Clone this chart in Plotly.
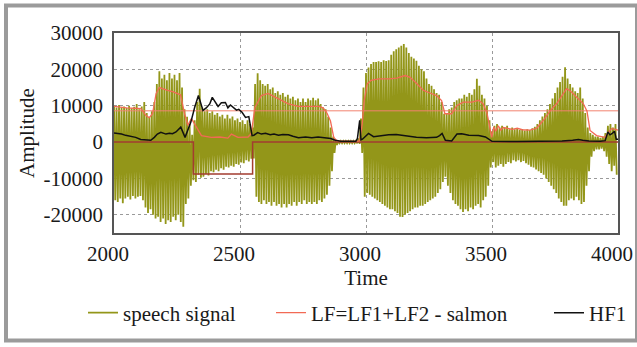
import plotly.graph_objects as go

# ---------------- data ----------------
# speech signal: local maxima / minima, one pair per 10 time units (2000..3990)
speech_t = list(range(2000, 4000, 10))
speech_peaks = [
    10000, 9500, 10200, 9600, 9800, 9400, 10000, 9300, 9700, 10500,      # 2000
    9000, 9800, 11000, 8000, 7000, 8500, 11000, 16000, 19500, 17500,     # 2100
    18500, 17000, 19000, 17500, 18500, 17000, 19000, 15000, 9000, 7000,  # 2200
    5000, 2000, 6000, 11000, 14700, 9500, 8500, 9000, 8000, 8500,        # 2300
    7500, 8000, 7000, 7500, 6500, 7500, 6500, 7000, 6000, 6500,          # 2400
    5500, 6000, 5000, 6000, 5000, 4000, 16000, 18900, 17000, 16000,      # 2500
    15500, 16000, 14500, 15000, 13500, 14000, 13000, 13500, 12500, 13000,  # 2600
    12000, 12500, 11500, 12000, 11000, 12000, 11000, 12000, 11500, 12200,  # 2700
    11500, 12000, 10500, 9500, 9000, 7000, 4000, 1500, 500, 300,         # 2800
    300, 300, 300, 300, 300, 300, 300, 1000, 6500, 15000,                # 2900
    19000, 20500, 21500, 22000, 22000, 22200, 22000, 22500, 22300, 22500,  # 3000
    24000, 25000, 25500, 26000, 26500, 27000, 26000, 24500, 23500, 23000,  # 3100
    22400, 21000, 20000, 19500, 17500, 16000, 15500, 14500, 13500, 13000,  # 3200
    11000, 7800, 8000, 9000, 9500, 11000, 11500, 12000, 12000, 13000,    # 3300
    12500, 13500, 13000, 14500, 17400, 15500, 13000, 12000, 10000, 6000,  # 3400
    3000, 4500, 5000, 4000, 4500, 4000, 4500, 3500, 4000, 3500,          # 3500
    3800, 3300, 3600, 3200, 3500, 3300, 3800, 4200, 5000, 6000,          # 3600
    7000, 8000, 9000, 10500, 12000, 13500, 15000, 16500, 18000, 20600,   # 3700
    17500, 16000, 15000, 14000, 13500, 15000, 12000, 8000, 4000, 2500,   # 3800
    2000, 1500, 1500, 1200, 1500, 2500, 4500, 5000, 4000, 5000,          # 3900
]
speech_troughs = [
    -16000, -16500, -15500, -16800, -15500, -15000, -15800, -14800, -15500, -15000,  # 2000
    -14800, -16000, -18000, -19500, -18500, -20000, -21000, -20500, -22000, -21000,  # 2100
    -22500, -21500, -22000, -20500, -21500, -20000, -22000, -23300, -17000, -15500,  # 2200
    -12000, -10500, -11000, -9000, -9800, -9500, -8800, -9200, -8000, -8300,         # 2300
    -7600, -8000, -7200, -7600, -6800, -7000, -6500, -6800, -6000, -6200,           # 2400
    -5600, -5800, -5000, -5300, -4600, -4500, -15000, -16500, -17000, -16000,       # 2500
    -17000, -16500, -17500, -16500, -17500, -17000, -18000, -17000, -18000, -17000,  # 2600
    -17500, -16500, -17500, -16500, -17000, -16000, -17000, -16500, -17000, -16500,  # 2700
    -17000, -16000, -16500, -15500, -14500, -12000, -8000, -3000, -800, -300,        # 2800
    -300, -300, -300, -300, -300, -300, -300, -500, -3000, -15000,                   # 2900
    -14000, -14500, -15000, -15500, -16000, -16500, -17000, -17500, -18000, -18500,  # 3000
    -18500, -19000, -19500, -20500, -20600, -20000, -19500, -19000, -18500, -18000,  # 3100
    -18000, -17500, -17500, -17000, -16500, -16000, -15500, -15000, -14000, -13000,  # 3200
    -11000, -9500, -12000, -14000, -16000, -17000, -17500, -18500, -19200, -18500,   # 3300
    -19000, -18000, -18500, -17500, -17000, -18000, -16000, -15000, -12000, -7000,   # 3400
    -5500, -7000, -6500, -6000, -6800, -6000, -5500, -5800, -5000, -5300,            # 3500
    -5000, -5500, -5200, -5800, -6200, -6800, -7000, -7500, -8000, -8500,            # 3600
    -9000, -10000, -11000, -12000, -13000, -14000, -15500, -16500, -17500, -17500,   # 3700
    -16000, -15500, -16000, -15000, -16000, -17000, -16500, -12000, -8000, -4000,    # 3800
    -2500, -2000, -2000, -1800, -2500, -4000, -6000, -8000, -6500, -9000,            # 3900
]

# LF = LF1 + LF2 (salmon curve)
lf_t = [2000, 2020, 2050, 2080, 2107, 2127, 2140, 2153, 2167, 2180, 2195, 2213,
        2235, 2253, 2264, 2280, 2293, 2307, 2327, 2347, 2386, 2420, 2452, 2466,
        2492, 2532, 2545, 2559, 2585, 2611, 2630, 2651, 2690, 2730, 2780, 2812,
        2830, 2845, 2859, 2872, 2885, 2920, 2960, 2975, 2985, 2993, 3005, 3020,
        3050, 3090, 3122, 3155, 3175, 3201, 3228, 3254, 3280, 3300, 3313, 3340,
        3360, 3386, 3420, 3447, 3465, 3480, 3499, 3507, 3515, 3525, 3535, 3545,
        3560, 3580, 3600, 3620, 3650, 3677, 3704, 3730, 3757, 3780, 3796, 3812,
        3836, 3862, 3877, 3889, 3915, 3948, 3963, 3975, 3990, 4000]
lf_v = [9800, 9600, 9400, 9300, 9200, 7300, 6700, 7800, 13300, 15000, 14600, 14200,
        13800, 13400, 13000, 7800, 4600, 6500, 4100, 1800, 1300, 1400, 1100, 2200,
        1300, 1400, 2400, 9500, 12800, 13400, 12700, 12000, 10600, 9800, 9800, 9800,
        9400, 8000, 5800, 1300, 300, 200, 200, 300, 5000, 11500, 16000, 17000,
        17400, 17400, 17600, 18300, 17800, 16100, 14200, 13500, 12800, 11400, 7800, 7800,
        10000, 11000, 11000, 11500, 10500, 8000, 1300, 4200, 3000, 4500, 3300, 4000,
        3700, 3500, 3800, 3400, 3300, 3800, 6000, 8500, 10600, 13000, 14700, 14000,
        12500, 10600, 8500, 3200, 1800, 1300, 2800, 3700, 3500, 3300]

# HF1 (black curve)
hf1_t = [2000, 2015, 2030, 2046, 2065, 2086, 2106, 2127, 2146, 2160, 2172, 2186,
         2206, 2220, 2232, 2246, 2265, 2282, 2295, 2305, 2320, 2335, 2353, 2366,
         2380, 2390, 2413, 2426, 2442, 2452, 2462, 2475, 2486, 2495, 2508, 2522,
         2535, 2548, 2555, 2570, 2585, 2601, 2620, 2635, 2653, 2670, 2692, 2710,
         2732, 2760, 2785, 2810, 2840, 2860, 2878, 2900, 2960, 2966, 2975, 2980,
         2986, 2995, 3010, 3030, 3050, 3070, 3090, 3120, 3150, 3170, 3200, 3240,
         3280, 3292, 3302, 3315, 3340, 3361, 3380, 3408, 3447, 3474, 3490, 3500,
         3600, 3700, 3778, 3820, 3843, 3860, 3885, 3930, 3949, 3960, 3968, 3976,
         3986, 3993, 4000]
hf1_v = [2500, 2400, 2200, 1850, 1600, 1300, 700, 500, 500, 1300, 2200, 2700,
         2200, 2400, 2300, 2800, 4100, 1300, 3500, 5500, 9500, 12800, 8700, 9400,
         10500, 12300, 9800, 10800, 10900, 9400, 10200, 9500, 8800, 9000, 8200, 6800,
         7000, 1800, 1900, 2600, 2200, 2400, 2000, 2200, 1900, 2100, 2000, 1600,
         1200, 1400, 1200, 1400, 1100, 1000, 500, 200, 200, 1000, 6000, 600,
         800, 1500, 2400, 1500, 1700, 1800, 2000, 2100, 1800, 1600, 1300, 1200,
         1300, 1800, 2400, 500, 300, 2200, 2300, 1900, 1800, 1400, 700, 200,
         150, 150, 300, 500, 700, 500, 300, 200, 400, 2800, 2000, 2300,
         3000, 800, 800]

# LF2 step (dark red) and threshold level (thin salmon line)
step_t = [2000, 2315, 2550, 4000]
step_v = [0, -8800, 0, 0]
thr_t = [2000, 4000]
thr_v = [8600, 8600]

x_ticks = [2000, 2500, 3000, 3500, 4000]
x_ticklabels = ["2000", "2500", "3000", "3500", "4000"]
y_ticks = [-20000, -10000, 0, 10000, 20000, 30000]
y_ticklabels = ["-20000", "-10000", "0", "10000", "20000", "30000"]

# ---------------- figure ----------------
# speech signal: alternate each maximum with the following minimum
sig_x, sig_y = [], []
for t, p, q in zip(speech_t, speech_peaks, speech_troughs):
    sig_x += [t, t + 5]
    sig_y += [p, q]

FONT = "Liberation Serif"
OLIVE = "#939619"
SALMON = "#f26a55"

fig = go.Figure()
fig.add_trace(go.Scatter(x=sig_x, y=sig_y, mode="lines", name="speech signal",
                         line=dict(color=OLIVE, width=1.8, simplify=False),
                         legend="legend"))
fig.add_trace(go.Scatter(x=step_t, y=step_v, mode="lines", line_shape="hv",
                         line=dict(color="#a33c30", width=1.5), showlegend=False,
                         hoverinfo="skip"))
fig.add_trace(go.Scatter(x=thr_t, y=thr_v, mode="lines",
                         line=dict(color="#f2826f", width=1), showlegend=False,
                         hoverinfo="skip"))
fig.add_trace(go.Scatter(x=lf_t, y=lf_v, mode="lines", name="LF=LF1+LF2 - salmon",
                         line=dict(color=SALMON, width=1.3), legend="legend2"))
fig.add_trace(go.Scatter(x=hf1_t, y=hf1_v, mode="lines", name="HF1",
                         line=dict(color="#111111", width=1.5), legend="legend3"))

leg_common = dict(orientation="h", yanchor="middle", xanchor="left", y=-0.4,
                  bgcolor="rgba(0,0,0,0)", itemwidth=30,
                  font=dict(family=FONT, size=21, color="#1a1a1a"))

fig.update_layout(
    width=637, height=347,
    margin=dict(l=114, r=19, t=33, b=114, autoexpand=False),
    paper_bgcolor="white", plot_bgcolor="white",
    font=dict(family=FONT, size=21, color="#1a1a1a"),
    legend=dict(leg_common, x=(83 - 114) / 504),
    legend2=dict(leg_common, x=(271 - 114) / 504),
    legend3=dict(leg_common, x=(549 - 114) / 504),
    xaxis=dict(range=[2000, 4000], tickvals=x_ticks, ticktext=x_ticklabels,
               ticklabeloverflow="allow", ticklabelshift=-6,
               showgrid=True, gridcolor="#9a9a9a", griddash="dot", gridwidth=1,
               showline=True, linecolor="#555555", linewidth=1.5, mirror=True,
               zeroline=False, ticks="", ticklabelstandoff=1,
               tickfont=dict(family=FONT, size=21),
               title=dict(text="Time", standoff=0,
                          font=dict(family=FONT, size=21))),
    yaxis=dict(range=[-25000, 30000], tickvals=y_ticks, ticktext=y_ticklabels,
               showgrid=True, gridcolor="#9a9a9a", griddash="dot", gridwidth=1,
               showline=True, linecolor="#555555", linewidth=1.5, mirror=True,
               zeroline=False, ticks="", ticklabelstandoff=5,
               tickfont=dict(family=FONT, size=21),
               title=dict(text="Amplitude", standoff=3,
                          font=dict(family=FONT, size=21))),
    shapes=[dict(type="rect", xref="paper", yref="paper",
                 x0=-108 / 504, x1=523 / 504, y0=-107.5 / 200, y1=227.5 / 200,
                 line=dict(color="#9b9b9b", width=4), fillcolor="rgba(0,0,0,0)",
                 layer="below")],
)

fig.write_html("out.html")
